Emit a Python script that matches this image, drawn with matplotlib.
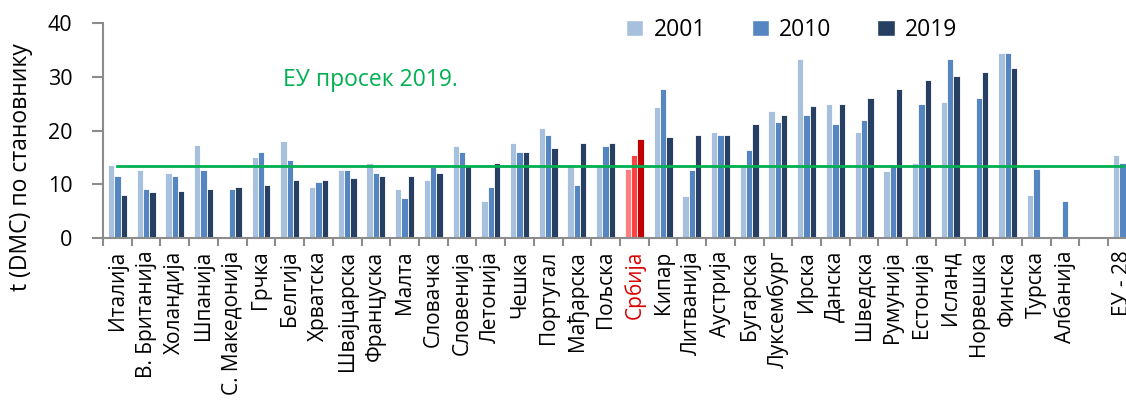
import numpy as np
import matplotlib.pyplot as plt
from matplotlib.patches import Patch

plt.rcParams['font.family'] = ['Open Sans', 'DejaVu Sans']

# Countries, left to right (one empty slot before the EU average)
countries = ["Италија", "В. Британија", "Холандија", "Шпанија", "С. Македонија",
             "Грчка", "Белгија", "Хрватска", "Швајцарска", "Француска", "Малта",
             "Словачка", "Словенија", "Летонија", "Чешка", "Португал", "Мађарска",
             "Пољска", "Србија", "Кипар", "Литванија", "Аустрија", "Бугарска",
             "Луксембург", "Ирска", "Данска", "Шведска", "Румунија", "Естонија",
             "Исланд", "Норвешка", "Финска", "Турска", "Албанија", "", "ЕУ - 28"]

nan = np.nan
# domestic material consumption, t per capita
dmc_2001 = [13.6, 12.6, 12.2, 17.4, nan, 15.0, 18.1, 9.5, 12.6, 14.0, 9.1,
            10.9, 17.1, 7.0, 17.7, 20.5, 13.6, 13.6, 12.9, 24.3, 7.8, 19.8, 13.6,
            23.6, 33.3, 25.0, 19.8, 12.5, 14.0, 25.4, nan, 34.4, 8.1, nan, nan, 15.4]
dmc_2010 = [11.6, 9.1, 11.6, 12.6, 9.1, 16.1, 14.6, 10.5, 12.6, 12.2, 7.4,
            13.3, 16.1, 9.5, 16.1, 19.2, 9.8, 17.1, 15.4, 27.8, 12.6, 19.2, 16.4,
            21.6, 22.9, 21.2, 21.9, 13.5, 25.0, 33.3, 26.0, 34.4, 12.9, 7.0, nan, 14.0]
dmc_2019 = [8.1, 8.5, 8.8, 9.1, 9.5, 9.8, 10.9, 10.9, 11.2, 11.6, 11.6,
            12.2, 13.6, 14.0, 16.1, 16.7, 17.7, 17.7, 18.5, 18.9, 19.2, 19.2, 21.2,
            22.9, 24.6, 25.0, 26.0, 27.8, 29.5, 30.2, 30.9, 31.6, nan, nan, nan, 13.4]
eu_avg_2019 = 13.4

years = ["2001", "2010", "2019"]
colors = ["#a7c0de", "#5686c1", "#263f63"]
serbia_colors = ["#ff7f7f", "#ff4242", "#c00000"]
serbia = countries.index("Србија")

x = np.arange(len(countries))
width = 0.22

fig = plt.figure(figsize=(11.26, 4.05), dpi=100)
ax = fig.add_axes([0.0915, 0.412, 0.9085, 0.531])

for i, (vals, col, scol) in enumerate(zip([dmc_2001, dmc_2010, dmc_2019], colors, serbia_colors)):
    bar_cols = [scol if k == serbia else col for k in range(len(countries))]
    ax.bar(x + (i - 1) * width, vals, width, color=bar_cols,
           edgecolor="white", linewidth=0.6, zorder=2)

ax.plot([x[0], x[-1]], [eu_avg_2019, eu_avg_2019], color="#00b050", lw=2, zorder=3)
ax.text(0.176, 0.735, "ЕУ просек 2019.", transform=ax.transAxes, color="#00b050",
        fontsize=16.5, va="center", ha="left")

ax.set_yticks([0, 10, 20, 30, 40])
ax.set_xticks(x)
ax.set_xticklabels(countries, rotation=90, fontsize=15)
ax.get_xticklabels()[serbia].set_color("#d90000")
ax.set_xticks(np.arange(-0.5, len(countries), 1), minor=True)
# limits go after the ticks, otherwise set_xticks widens the view
ax.set_ylim(0, 40)
ax.set_xlim(-0.5, 35.12)
ax.tick_params(axis="x", which="major", length=0, pad=9)
ax.tick_params(axis="x", which="minor", length=6, width=1.5, color="#8c8c8c")
ax.tick_params(axis="y", length=8, width=1.5, color="#8c8c8c", labelsize=15.5, pad=14)

for side in ["top", "right"]:
    ax.spines[side].set_visible(False)
for side in ["left", "bottom"]:
    ax.spines[side].set_color("#8c8c8c")
    ax.spines[side].set_linewidth(1.5)

ax.set_ylabel("t (DMC) по становнику", fontsize=16.5)
ax.yaxis.set_label_coords(-0.068, 0.33)

handles = [Patch(facecolor=c, edgecolor="white") for c in colors]
fig.legend(handles, years, loc="center left", bbox_to_anchor=(0.556, 0.926),
           ncol=3, frameon=False, fontsize=16.5, handlelength=0.75, handleheight=0.75,
           handletextpad=0.45, columnspacing=2.0, borderaxespad=0, borderpad=0)

fig.savefig("out.png", dpi=100)
